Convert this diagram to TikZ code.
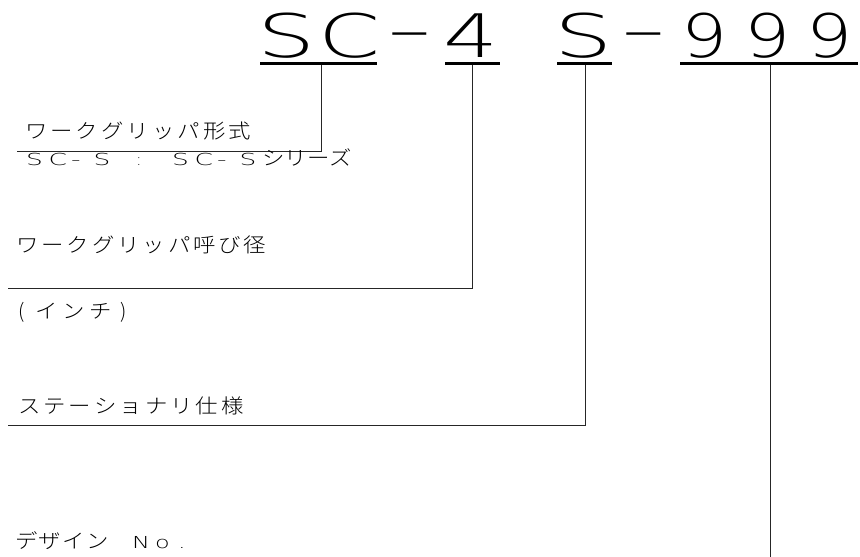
\documentclass[tikz,border=0pt]{standalone}
\usepackage{fontspec}
\IfFontExistsTF{Noto Sans CJK JP Light}
  {\newfontfamily\jpfont{Noto Sans CJK JP Light}}
  {\newfontfamily\jpfont{Noto Sans CJK JP}}
\IfFontExistsTF{DejaVu Sans ExtraLight}
  {\newfontfamily\latfont{DejaVu Sans ExtraLight}
   \def\bigsize{60}
   \def\sS{1.53}\def\sC{1.48}\def\sF{1.44}\def\sN{1.21}\def\sH{2.15}\def\sL{1.6}
   \def\xSa{256.9}\def\xC{318}\def\xHa{386.7}\def\xF{442.8}\def\xSb{553.9}
   \def\xHb{620.7}\def\xNa{681}\def\xNb{744}\def\xNc{806}\def\yH{50.9}}
  {\newfontfamily\latfont{Liberation Sans}
   \def\bigsize{61}
   \def\sS{1.34}\def\sC{1.28}\def\sF{1.42}\def\sN{1.32}\def\sH{2.1}\def\sL{1.3}
   \def\xSa{259.3}\def\xC{319.1}\def\xHa{388.8}\def\xF{446.8}\def\xSb{556.3}
   \def\xHb{622.8}\def\xNa{681.7}\def\xNb{744.7}\def\xNc{806.7}\def\yH{50.5}}
\newlength\cadw
\def\cadsc{1}
\newcommand\cadtext[3]{\setlength\cadw{#1}\def\cadsc{#2}\cadloop#3\relax}
\def\cadloop#1{\ifx#1\relax\else\makebox[\cadw][l]{\scalebox{\cadsc}[1]{#1}}\expandafter\cadloop\fi}
\newcommand\bigch[2]{\scalebox{#1}[1]{#2}}
\tikzset{
  bigtxt/.style={inner sep=0pt, anchor=base west, font=\latfont\fontsize{\bigsize}{\bigsize}\selectfont},
  smalltxt/.style={inner sep=0pt, anchor=base west, font=\jpfont\fontsize{20}{20}\selectfont},
  smalllat/.style={inner sep=0pt, anchor=base west, font=\latfont\fontsize{16.5}{16.5}\selectfont},
  uline/.style={line width=3pt, black},
  leader/.style={line width=1pt, black!85},
}
\begin{document}
\begin{tikzpicture}[x=1pt,y=-1pt]
\useasboundingbox (0,0) rectangle (860,557);
% big code
\node[bigtxt] (cS1) at (\xSa,57.5) {\bigch{\sS}{S}};
\node[bigtxt] (cC)  at (\xC,57.5) {\bigch{\sC}{C}};
\node[bigtxt] (cD1) at (\xHa,\yH) {\bigch{\sH}{-}};
\node[bigtxt] (c4)  at (\xF,57.5) {\bigch{\sF}{4}};
\node[bigtxt] (cS2) at (\xSb,57.5) {\bigch{\sS}{S}};
\node[bigtxt] (cD2) at (\xHb,\yH) {\bigch{\sH}{-}};
\node[bigtxt] (c9a) at (\xNa,57.5) {\bigch{\sN}{9}};
\node[bigtxt] (c9b) at (\xNb,57.5) {\bigch{\sN}{9}};
\node[bigtxt] (c9c) at (\xNc,57.5) {\bigch{\sN}{9}};
% underlines
\coordinate (u1a) at (260,63); \coordinate (u1b) at (377,63);
\coordinate (u2a) at (445,63); \coordinate (u2b) at (500,63);
\coordinate (u3a) at (557,63); \coordinate (u3b) at (612,63);
\coordinate (u4a) at (680,63); \coordinate (u4b) at (858,63);
\draw[uline] (u1a) -- (u1b);
\draw[uline] (u2a) -- (u2b);
\draw[uline] (u3a) -- (u3b);
\draw[uline] (u4a) -- (u4b);
% leader tops and ends
\coordinate (t1) at (321,64.5);   \coordinate (e1) at (17,151.5);
\coordinate (t2) at (472.5,64.5); \coordinate (e2) at (8,288);
\coordinate (t3) at (585,64.5);   \coordinate (e3) at (8,425);
\coordinate (t4) at (770.5,64.5); \coordinate (e4) at (770.5,557);
\draw[leader] (t1) |- (e1);
\draw[leader] (t2) |- (e2);
\draw[leader] (t3) |- (e3);
\draw[leader] (t4) -- (e4);
% labels
\node[smalltxt] (l1) at (25,138) {\cadtext{25.4pt}{1.12}{ワークグリッパ形式}};
\node[smalllat] (l2a) at (26,165) {\cadtext{22.5pt}{\sL}{SC-S}};
\node[smalllat] (l2b) at (136,165) {:};
\node[smalllat] (l2c) at (172,165) {\cadtext{22.5pt}{\sL}{SC-S}};
\node[smalltxt] (l2d) at (262,165.5) {\cadtext{22.5pt}{1.12}{シリーズ}};
\node[smalltxt] (l3) at (16,252) {\cadtext{25.3pt}{1.12}{ワークグリッパ呼び径}};
\node[smalltxt] (l4a) at (18,318) {(};
\node[smalltxt] (l4b) at (35,318) {\cadtext{27pt}{1.12}{インチ}};
\node[smalltxt] (l4c) at (120,318) {)};
\node[smalltxt] (l5) at (18,413) {\cadtext{25.4pt}{1.12}{ステーショナリ仕様}};
\node[smalltxt] (l6a) at (15,548) {\cadtext{23.6pt}{1.12}{デザイン}};
\node[smalllat] (l6b) at (132,548) {\cadtext{23pt}{1.45}{No.}};
\end{tikzpicture}
\end{document}
